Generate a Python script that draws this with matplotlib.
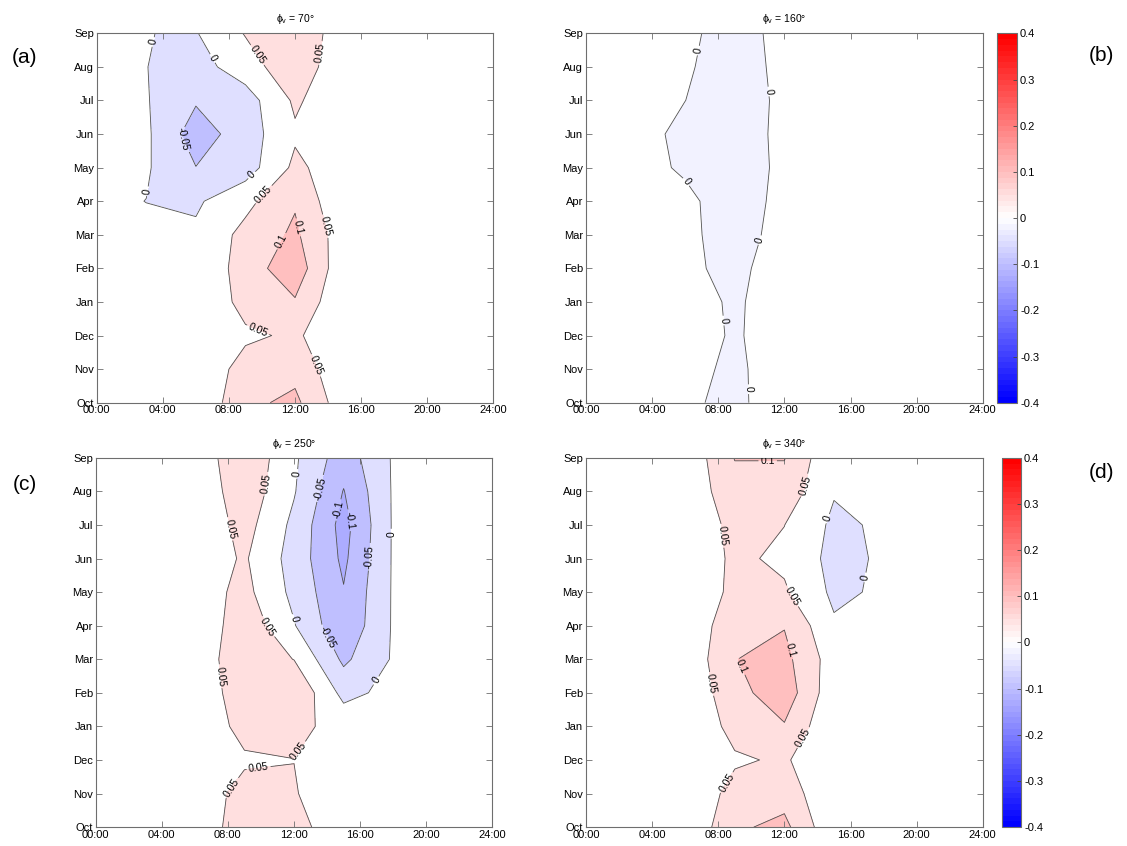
"""
日变化-季节变化等值线图，四个风向 phi_v 对比
"""
import numpy as np
import matplotlib.pyplot as plt
from matplotlib.colors import Normalize

plt.rcParams['font.family'] = ['Liberation Sans', 'DejaVu Sans']

# 数据：行 = 月份 (Oct..Sep)，列 = 时刻 (每 3 小时)
hours = [0, 3, 6, 9, 12, 15, 18, 21, 24]
months = ['Oct', 'Nov', 'Dec', 'Jan', 'Feb', 'Mar', 'Apr', 'May', 'Jun', 'Jul', 'Aug', 'Sep']

z_70 = [
    [0.01, 0.01, 0.0055, 0.089, 0.111, 0.02, 0.02, 0.02, 0.02],
    [0.01, 0.01, 0.008, 0.071, 0.085, 0.01, 0.02, 0.02, 0.02],
    [0.01, 0.01, 0.02, 0.041, 0.058, 0.01, 0.02, 0.02, 0.02],
    [0.01, 0.01, 0.001, 0.068, 0.0955, 0.005, 0.02, 0.02, 0.02],
    [0.01, 0.01, 0.001, 0.076, 0.13, 0.011, 0.02, 0.02, 0.02],
    [0.01, 0.01, 0.0085, 0.065, 0.109, 0.02, 0.02, 0.02, 0.02],
    [0.01, -0.0005, -0.0072, 0.036, 0.095, 0.003, 0.02, 0.02, 0.02],
    [0.01, 0.0054, -0.049, -0.024, 0.061, 0.02, 0.02, 0.02, 0.02],
    [0.01, 0.0083, -0.075, -0.025, 0.043, 0.02, 0.02, 0.02, 0.02],
    [0.01, 0.0032, -0.045, -0.023, 0.058, 0.01, 0.02, 0.02, 0.02],
    [0.01, 0.0007, -0.02, 0.026, 0.086, 0.01, 0.02, 0.02, 0.02],
    [0.01, 0.0006, -0.0028, 0.053, 0.08, 0.027, 0.02, 0.02, 0.02],
]

z_160 = [
    [0.01, 0.01, 0.01, -0.015, 0.038, 0.01, 0.01, 0.01, 0.01],
    [0.01, 0.01, 0.015, -0.01, 0.0275, 0.01, 0.01, 0.01, 0.01],
    [0.01, 0.01, 0.02, -0.005, 0.0223, 0.01, 0.01, 0.01, 0.01],
    [0.01, 0.01, 0.0285, -0.01, 0.037, 0.01, 0.01, 0.01, 0.01],
    [0.01, 0.01, 0.0147, -0.02, 0.04, 0.01, 0.01, 0.01, 0.01],
    [0.01, 0.01, 0.0103, -0.02, 0.0175, 0.01, 0.01, 0.01, 0.01],
    [0.01, 0.01, 0.0085, -0.02, 0.0116, 0.01, 0.01, 0.01, 0.01],
    [0.01, 0.0129, -0.005, -0.02, 0.0086, 0.01, 0.01, 0.01, 0.01],
    [0.01, 0.0146, -0.01, -0.02, 0.01, 0.01, 0.01, 0.01, 0.01],
    [0.01, 0.01, 0.0002, -0.02, 0.0086, 0.01, 0.01, 0.01, 0.01],
    [0.01, 0.01, 0.005, -0.02, 0.0116, 0.01, 0.01, 0.01, 0.01],
    [0.01, 0.01, 0.01, -0.02, 0.0151, 0.01, 0.01, 0.01, 0.01],
]

z_250 = [
    [0.02, 0.02, 0.0185, 0.075, 0.07, 0.014, 0.02, 0.02, 0.02],
    [0.02, 0.02, 0.014, 0.07, 0.054, 0.01, 0.02, 0.02, 0.02],
    [0.02, 0.02, 0.02, 0.0418, 0.0495, 0.02, 0.02, 0.02, 0.02],
    [0.02, 0.02, 0.0033, 0.07, 0.0624, 0.0334, 0.02, 0.02, 0.02],
    [0.02, 0.02, 0.006, 0.085, 0.095, -0.015, 0.015, 0.02, 0.02],
    [0.02, 0.02, 0.022, 0.08, 0.049, -0.06, 0.005, 0.02, 0.02],
    [0.02, 0.02, 0.0026, 0.0858, 0.0031, -0.0905, 0.005, 0.02, 0.02],
    [0.02, 0.02, 0.023, 0.065, -0.013, -0.097, 0.005, 0.02, 0.02],
    [0.02, 0.02, 0.018, 0.056, -0.02, -0.11, 0.005, 0.02, 0.02],
    [0.02, 0.02, 0.005, 0.0696, -0.012, -0.118, 0.005, 0.02, 0.02],
    [0.02, 0.02, 0.008, 0.0834, 0.0038, -0.102, 0.005, 0.02, 0.02],
    [0.02, 0.02, 0.0128, 0.0932, 0.008, -0.078, 0.005, 0.02, 0.02],
]

z_340 = [
    [0.02, 0.02, 0.002, 0.0918, 0.1133, 0.0086, 0.02, 0.02, 0.02],
    [0.02, 0.02, 0.0121, 0.0657, 0.08, 0.004, 0.02, 0.02, 0.02],
    [0.02, 0.02, 0.02, 0.0442, 0.0558, 0.0101, 0.02, 0.02, 0.02],
    [0.02, 0.02, 0.0094, 0.065, 0.0959, 0.005, 0.02, 0.02, 0.02],
    [0.02, 0.02, 0.009, 0.0826, 0.13, 0.016, 0.02, 0.02, 0.02],
    [0.02, 0.02, 0.0094, 0.099, 0.1147, 0.025, 0.02, 0.02, 0.02],
    [0.02, 0.02, 0.0144, 0.08, 0.0978, 0.0064, 0.02, 0.02, 0.02],
    [0.02, 0.02, 0.0105, 0.062, 0.0564, -0.01, 0.0075, 0.02, 0.02],
    [0.02, 0.02, 0.0091, 0.06, 0.04, -0.015, 0.0065, 0.02, 0.02],
    [0.02, 0.02, 0.0175, 0.062, 0.0505, -0.01, 0.0075, 0.02, 0.02],
    [0.02, 0.02, 0.0166, 0.08, 0.0796, 0.0037, 0.02, 0.02, 0.02],
    [0.02, 0.02, 0.0107, 0.102, 0.102, 0.0057, 0.02, 0.02, 0.02],
]

angles = [70, 160, 250, 340]
tags = ['(a)', '(b)', '(c)', '(d)']

# 等值线标注位置 (小时, 月份序号)
labels_70 = [(3.64, 10.72), (6.93, 10.23), (9.7, 10.35), (13.53, 10.42), (5.11, 7.81),
             (9.44, 6.75), (3.16, 6.29), (10.39, 6.07), (12.19, 5.22), (11.1, 4.83),
             (13.55, 5.22), (9.7, 2.09), (12.94, 1.04)]
labels_160 = [(6.86, 10.48), (10.89, 9.26), (6.07, 6.58), (10.66, 4.82), (8.17, 2.44),
              (9.69, 0.40)]
labels_250 = [(10.37, 10.22), (8.27, 8.9), (12.2, 10.52), (13.71, 10.07), (14.75, 9.44),
              (15.18, 9.12), (17.82, 8.74), (16.63, 8.05), (10.3, 5.93), (12.16, 6.23),
              (13.93, 5.63), (7.49, 4.49), (17.06, 4.34), (12.48, 2.19), (9.87, 1.71),
              (8.42, 1.1)]
labels_340 = [(10.99, 10.85), (13.41, 10.16), (14.72, 9.17), (8.12, 8.67), (16.94, 7.43),
              (12.34, 6.84), (12.23, 5.25), (9.26, 4.76), (7.51, 4.26), (13.28, 2.63),
              (8.64, 1.29)]

# 最低区间的填充颜色取值
floors = [-0.1, -0.02, -0.13, -0.05]

cmap = plt.cm.bwr
norm = Normalize(-0.4, 0.4)
gray = '#6e6e6e'


def bwr_color(v):
    # 蓝-白-红线性色标，0 处为纯白
    t = min(abs(v) / 0.4, 1.0)
    if v < 0:
        return (1 - t, 1 - t, 1.0)
    return (1.0, 1 - t, 1 - t)


def fmt_label(v):
    return '%g' % (round(v, 2) + 0.0)


fig = plt.figure(figsize=(11.27, 8.46), dpi=100)
ax_pos = [[0.0858, 0.524, 0.352, 0.4366], [0.520, 0.524, 0.352, 0.4366],
          [0.0849, 0.0223, 0.352, 0.4366], [0.520, 0.0223, 0.352, 0.4366]]
tag_pos = [(0.022, 0.932), (0.977, 0.934), (0.022, 0.427), (0.977, 0.442)]

for i, z in enumerate([z_70, z_160, z_250, z_340]):
    z = np.array(z)
    ax = fig.add_axes(ax_pos[i])
    levels = [round(v, 2) + 0.0 for v in np.arange(-0.4, 0.401, 0.05) if z.min() < v < z.max()]
    bounds = [z.min() - 1e-3] + levels + [z.max() + 1e-3]
    colors = [bwr_color(floors[i])] + [bwr_color(v) for v in levels]
    ax.contourf(hours, np.arange(len(months)), z, levels=bounds, colors=colors)
    cs = ax.contour(hours, np.arange(len(months)), z, levels=levels,
                    colors='#505050', linewidths=0.6, linestyles='solid')
    ax.clabel(cs, fmt=fmt_label, fontsize=7.5, colors='k', inline=True, inline_spacing=2,
              manual=[labels_70, labels_160, labels_250, labels_340][i])
    ax.set_xlim(0, 24)
    ax.set_ylim(0, 11)
    ax.set_xticks(range(0, 25, 4))
    ax.set_xticklabels(['%02d:00' % h for h in range(0, 25, 4)])
    ax.set_yticks(range(len(months)))
    ax.set_yticklabels(months)
    ax.tick_params(direction='in', top=True, right=True, length=4, width=0.6,
                   color=gray, labelsize=8, pad=2)
    for sp in ax.spines.values():
        sp.set_color(gray)
        sp.set_linewidth(0.8)
    ax.set_title(r'$\mathregular{\phi_v}$ = %d°' % angles[i], fontsize=7.5, pad=8)
    fig.text(tag_pos[i][0], tag_pos[i][1], tags[i], fontsize=15, ha='center', va='center')

# 色标
cb_ticks = [round(t, 1) + 0.0 for t in np.arange(-0.4, 0.41, 0.1)]
for pos in [[0.885, 0.524, 0.0177, 0.4366], [0.889, 0.0223, 0.0172, 0.4366]]:
    cax = fig.add_axes(pos)
    sm = plt.cm.ScalarMappable(norm=norm, cmap=cmap.resampled(64))
    cb = fig.colorbar(sm, cax=cax, ticks=cb_ticks)
    cb.ax.set_yticklabels(['%g' % t for t in cb_ticks])
    cb.ax.tick_params(direction='in', length=3, width=0.6, color='#444444', labelsize=8, pad=2)
    cb.outline.set_edgecolor(gray)
    cb.outline.set_linewidth(0.8)

fig.savefig('out.png', dpi=100)
